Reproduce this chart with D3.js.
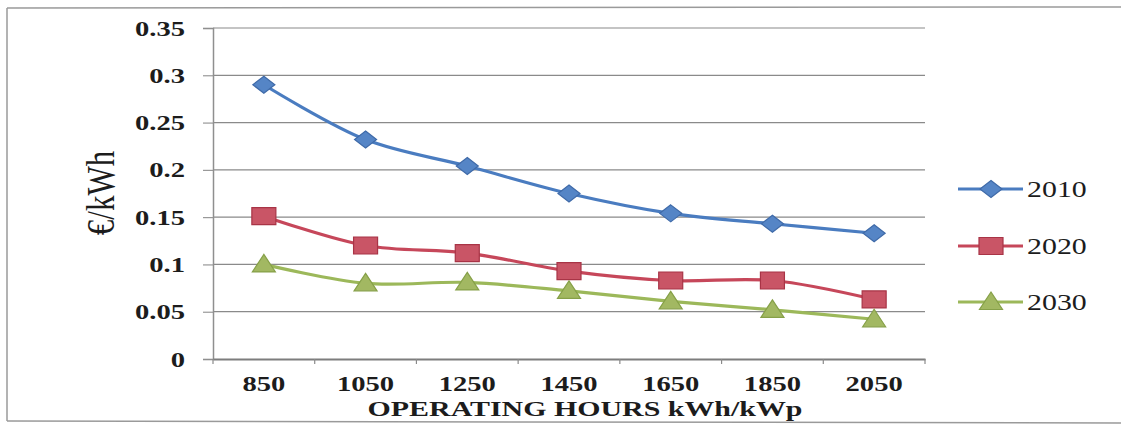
<!DOCTYPE html>
<html>
<head>
<meta charset="utf-8">
<script src="https://cdn.jsdelivr.net/npm/d3@7"></script>
<style>
  body { margin: 0; background: #fff; }
  svg { display: block; }
  text { font-family: "Liberation Serif", "Times New Roman", serif; fill: #1c1c1c; }
</style>
</head>
<body>
<svg id="chart" width="1121" height="427"></svg>
<script>
// Operating hours (kWh/kWp) on the category axis
const hours = ["850", "1050", "1250", "1450", "1650", "1850", "2050"];
// Electricity cost in €/kWh per reference year
const cost2010 = [0.29, 0.232, 0.204, 0.175, 0.154, 0.143, 0.133];
const cost2020 = [0.151, 0.12, 0.112, 0.093, 0.083, 0.083, 0.063];
const cost2030 = [0.1, 0.08, 0.081, 0.072, 0.061, 0.052, 0.042];
const seriesNames = ["2010", "2020", "2030"];
const yTicks = [0, 0.05, 0.1, 0.15, 0.2, 0.25, 0.3, 0.35];
const yTickLabels = ["0", "0.05", "0.1", "0.15", "0.2", "0.25", "0.3", "0.35"];

const series = [
  { name: seriesNames[0], values: cost2010, line: "#4a7cc0", fill: "#5585c6", edge: "#3f6aa8", shape: "diamond" },
  { name: seriesNames[1], values: cost2020, line: "#c6475a", fill: "#c95566", edge: "#a83446", shape: "square" },
  { name: seriesNames[2], values: cost2030, line: "#9cb85a", fill: "#a2b862", edge: "#86a048", shape: "triangle" }
];

const svg = d3.select("#chart");
const SX = 1.3; // horizontal text stretch

const plot = { left: 213, right: 925, top: 28, bottom: 359 };

const x = d3.scaleBand().domain(hours).range([plot.left, plot.right]).padding(0);
const y = d3.scaleLinear().domain([0, 0.35]).range([plot.bottom, plot.top]);

// Outer frame
const frame = svg.append("g").attr("stroke", "#9a9a9a").attr("stroke-width", 1.5).attr("fill", "none");
frame.append("line").attr("x1", 7).attr("y1", 8).attr("x2", 1121).attr("y2", 7);
frame.append("line").attr("x1", 7).attr("y1", 421).attr("x2", 1121).attr("y2", 423);
frame.append("line").attr("x1", 7).attr("y1", 8).attr("x2", 7).attr("y2", 421);

// Horizontal gridlines
svg.append("g")
  .selectAll("line")
  .data(yTicks.filter(d => d > 0))
  .join("line")
  .attr("x1", plot.left).attr("x2", plot.right)
  .attr("y1", d => y(d)).attr("y2", d => y(d))
  .attr("stroke", "#8a8a8a").attr("stroke-width", 1.2);

// Y axis
const yAxis = svg.append("g")
  .attr("transform", `translate(${plot.left},0)`)
  .call(d3.axisLeft(y).tickValues(yTicks).tickSize(10).tickPadding(0)
    .tickFormat((d, i) => yTickLabels[i]));
yAxis.select(".domain").attr("stroke", "#8f8f8f").attr("stroke-width", 1.5);
yAxis.selectAll(".tick line").attr("stroke", "#8f8f8f").attr("stroke-width", 1.1);
yAxis.selectAll(".tick text")
  .attr("x", null).attr("dy", null)
  .attr("transform", `translate(${185 - plot.left},7) scale(${SX},1)`)
  .attr("text-anchor", "end")
  .style("font-size", "22px").style("font-weight", "bold").style("fill", "#1c1c1c");

// X axis
const xAxis = svg.append("g")
  .attr("transform", `translate(0,${plot.bottom})`)
  .call(d3.axisBottom(x).tickSize(0).tickPadding(0));
xAxis.select(".domain").attr("stroke", "#7d7d7d").attr("stroke-width", 2.2);
xAxis.selectAll(".tick text")
  .attr("y", null).attr("dy", null)
  .attr("transform", `translate(0,32) scale(${SX},1)`)
  .attr("text-anchor", "middle")
  .style("font-size", "22px").style("font-weight", "bold").style("fill", "#1c1c1c");

// Category boundary tick marks
svg.append("g")
  .selectAll("line")
  .data(hours.concat(["end"]))
  .join("line")
  .attr("x1", (d, i) => plot.left + i * x.step())
  .attr("x2", (d, i) => plot.left + i * x.step())
  .attr("y1", plot.bottom).attr("y2", plot.bottom + 5)
  .attr("stroke", "#8a8a8a").attr("stroke-width", 1.2);

// Axis titles
svg.append("text")
  .attr("transform", `translate(585,416) scale(1.36,1)`)
  .attr("text-anchor", "middle")
  .style("font-size", "22px").style("font-weight", "bold")
  .text("OPERATING HOURS kWh/kWp");

svg.append("text")
  .attr("transform", `translate(114,193) scale(${SX},1) rotate(-90)`)
  .attr("text-anchor", "middle")
  .style("font-size", "31px")
  .text("€/kWh");

// Marker shapes
function markerPath(shape) {
  if (shape === "diamond") return "M0,-8.5L11,0L0,8.5L-11,0Z";
  if (shape === "square") return "M-12,-8.5H12V8.5H-12Z";
  return "M0,-10L11.5,7.5H-11.5Z";
}

const line = d3.line()
  .x((d, i) => x(hours[i]) + x.bandwidth() / 2)
  .y(d => y(d))
  .curve(d3.curveCatmullRom.alpha(0.5));

series.forEach(s => {
  const g = svg.append("g");
  g.append("path")
    .attr("d", line(s.values))
    .attr("fill", "none")
    .attr("stroke", s.line)
    .attr("stroke-width", 3.2)
    .attr("stroke-linejoin", "round");
  g.selectAll("path.mk")
    .data(s.values)
    .join("path")
    .attr("class", "mk")
    .attr("transform", (d, i) => `translate(${x(hours[i]) + x.bandwidth() / 2},${y(d)})`)
    .attr("d", markerPath(s.shape))
    .attr("fill", s.fill)
    .attr("stroke", s.edge)
    .attr("stroke-width", 1.2);
});

// Legend
const legendRows = [189, 246, 302];
const legend = svg.append("g");
series.forEach((s, i) => {
  const row = legend.append("g").attr("transform", `translate(0,${legendRows[i]})`);
  row.append("line")
    .attr("x1", 958).attr("x2", 1023).attr("y1", 0).attr("y2", 0)
    .attr("stroke", s.line).attr("stroke-width", 3.2);
  row.append("path")
    .attr("transform", "translate(991,0)")
    .attr("d", markerPath(s.shape))
    .attr("fill", s.fill).attr("stroke", s.edge).attr("stroke-width", 1.2);
  row.append("text")
    .attr("transform", `translate(1027,8) scale(${SX},1)`)
    .style("font-size", "23px")
    .text(s.name);
});
</script>
</body>
</html>
